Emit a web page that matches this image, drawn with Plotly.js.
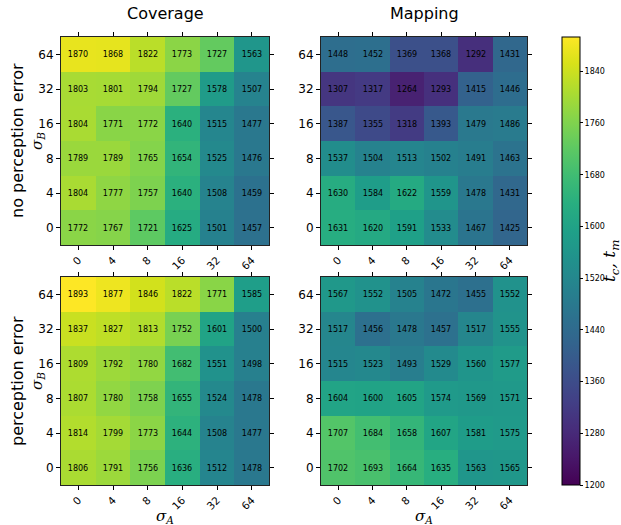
<!DOCTYPE html>
<html>
<head>
<meta charset="utf-8">
<script src="https://cdn.plot.ly/plotly-3.0.1.min.js"></script>
<style>html,body{margin:0;padding:0;background:#fff;}#chart{width:621px;height:525px;}</style>
</head>
<body>
<div id="chart"></div>
<script>
// categories (bottom to top for y)
const sigmaA = ["0", "4", "8", "16", "32", "64"];
const sigmaB = ["0", "4", "8", "16", "32", "64"];

// rows listed bottom (σB=0) to top (σB=64)
const coverageNoErr = [
  [1772, 1767, 1721, 1625, 1501, 1457],
  [1804, 1777, 1757, 1640, 1508, 1459],
  [1789, 1789, 1765, 1654, 1525, 1476],
  [1804, 1771, 1772, 1640, 1515, 1477],
  [1803, 1801, 1794, 1727, 1578, 1507],
  [1870, 1868, 1822, 1773, 1727, 1563]
];
const mappingNoErr = [
  [1631, 1620, 1591, 1533, 1467, 1425],
  [1630, 1584, 1622, 1559, 1478, 1431],
  [1537, 1504, 1513, 1502, 1491, 1463],
  [1387, 1355, 1318, 1393, 1479, 1486],
  [1307, 1317, 1264, 1293, 1415, 1446],
  [1448, 1452, 1369, 1368, 1292, 1431]
];
const coverageErr = [
  [1806, 1791, 1756, 1636, 1512, 1478],
  [1814, 1799, 1773, 1644, 1508, 1477],
  [1807, 1780, 1758, 1655, 1524, 1478],
  [1809, 1792, 1780, 1682, 1551, 1498],
  [1837, 1827, 1813, 1752, 1601, 1500],
  [1893, 1877, 1846, 1822, 1771, 1585]
];
const mappingErr = [
  [1702, 1693, 1664, 1635, 1563, 1565],
  [1707, 1684, 1658, 1607, 1581, 1575],
  [1604, 1600, 1605, 1574, 1569, 1571],
  [1515, 1523, 1493, 1529, 1560, 1577],
  [1517, 1456, 1478, 1457, 1517, 1555],
  [1567, 1552, 1505, 1472, 1455, 1552]
];
const colorTicks = [1200, 1280, 1360, 1440, 1520, 1600, 1680, 1760, 1840];

const W = 621, H = 525;
const px = v => v / W;
const py = v => 1 - v / H;

function hm(z, xa, ya) {
  return {
    type: 'heatmap', z: z, x: sigmaA, y: sigmaB,
    xaxis: xa, yaxis: ya, coloraxis: 'coloraxis',
    texttemplate: '%{z}', textfont: {size: 8, color: '#000', family: 'DejaVu Sans'},
    xgap: 0, ygap: 0, hoverinfo: 'skip'
  };
}

const data = [
  hm(coverageNoErr, 'x', 'y'),
  hm(mappingNoErr, 'x2', 'y2'),
  hm(coverageErr, 'x3', 'y3'),
  hm(mappingErr, 'x4', 'y4')
];

function xax(d, anchor) {
  return {
    domain: d, anchor: anchor, type: 'category',
    tickangle: -45, ticks: 'outside', ticklen: 4, tickcolor: '#000',
    showline: true, mirror: 'ticks', linecolor: '#222', linewidth: 1,
    showgrid: false, zeroline: false, automargin: false,
    tickfont: {size: 10.5, family: 'DejaVu Sans', color: '#000'}
  };
}
function yax(d, anchor) {
  return {
    domain: d, anchor: anchor, type: 'category',
    ticks: 'outside', ticklen: 4, tickcolor: '#000',
    showline: true, mirror: 'ticks', linecolor: '#222', linewidth: 1,
    showgrid: false, zeroline: false, automargin: false,
    tickfont: {size: 12, family: 'DejaVu Sans', color: '#000'}
  };
}

const colL = [px(61), px(269)], colR = [px(321), px(527)];
const rowT = [py(245), py(37)], rowB = [py(485), py(277)];

const layout = {
  width: W, height: H,
  margin: {l: 0, r: 0, t: 0, b: 0},
  paper_bgcolor: '#fff', plot_bgcolor: '#fff',
  showlegend: false,
  font: {family: 'DejaVu Sans', color: '#000'},
  xaxis: xax(colL, 'y'), yaxis: yax(rowT, 'x'),
  xaxis2: xax(colR, 'y2'), yaxis2: yax(rowT, 'x2'),
  xaxis3: xax(colL, 'y3'), yaxis3: yax(rowB, 'x3'),
  xaxis4: xax(colR, 'y4'), yaxis4: yax(rowB, 'x4'),
  coloraxis: {
    colorscale: 'Viridis', cmin: 1200, cmax: 1893,
    colorbar: {
      x: px(562), xanchor: 'left', xref: 'paper', xpad: 0, ypad: 0,
      y: py(261), yanchor: 'middle', yref: 'paper',
      len: 448 / H, lenmode: 'fraction',
      thickness: 18, thicknessmode: 'pixels',
      outlinewidth: 1, outlinecolor: '#000',
      ticks: 'outside', ticklen: 3, tickcolor: '#000',
      tickvals: colorTicks, ticktext: colorTicks.map(String),
      tickfont: {size: 8, family: 'DejaVu Sans', color: '#000'}
    }
  },
  annotations: [
    {text: 'Coverage', x: px(165), y: py(13), xref: 'paper', yref: 'paper',
     showarrow: false, font: {size: 16}, xanchor: 'center', yanchor: 'middle'},
    {text: 'Mapping', x: px(424), y: py(13), xref: 'paper', yref: 'paper',
     showarrow: false, font: {size: 16}, xanchor: 'center', yanchor: 'middle'},
    {text: 'no perception error', x: px(17), y: py(141), xref: 'paper', yref: 'paper',
     showarrow: false, textangle: -90, font: {size: 16}, xanchor: 'center', yanchor: 'middle'},
    {text: 'perception error', x: px(17), y: py(381), xref: 'paper', yref: 'paper',
     showarrow: false, textangle: -90, font: {size: 16}, xanchor: 'center', yanchor: 'middle'},
    {text: '<i>σ<sub>B</sub></i>', x: px(37), y: py(141), xref: 'paper', yref: 'paper',
     showarrow: false, textangle: -90, font: {size: 15, family: 'DejaVu Serif'}, xanchor: 'center', yanchor: 'middle'},
    {text: '<i>σ<sub>B</sub></i>', x: px(37), y: py(381), xref: 'paper', yref: 'paper',
     showarrow: false, textangle: -90, font: {size: 15, family: 'DejaVu Serif'}, xanchor: 'center', yanchor: 'middle'},
    {text: '<i>σ<sub>A</sub></i>', x: px(165), y: py(516), xref: 'paper', yref: 'paper',
     showarrow: false, font: {size: 15, family: 'DejaVu Serif'}, xanchor: 'center', yanchor: 'middle'},
    {text: '<i>σ<sub>A</sub></i>', x: px(424), y: py(516), xref: 'paper', yref: 'paper',
     showarrow: false, font: {size: 15, family: 'DejaVu Serif'}, xanchor: 'center', yanchor: 'middle'},
    {text: '<i>t<sub>c</sub>, t<sub>m</sub></i>', x: px(610), y: py(261), xref: 'paper', yref: 'paper',
     showarrow: false, textangle: -90, font: {size: 17, family: 'DejaVu Serif'}, xanchor: 'center', yanchor: 'middle'}
  ]
};

Plotly.newPlot('chart', data, layout, {displayModeBar: false, staticPlot: true});
</script>
</body>
</html>
